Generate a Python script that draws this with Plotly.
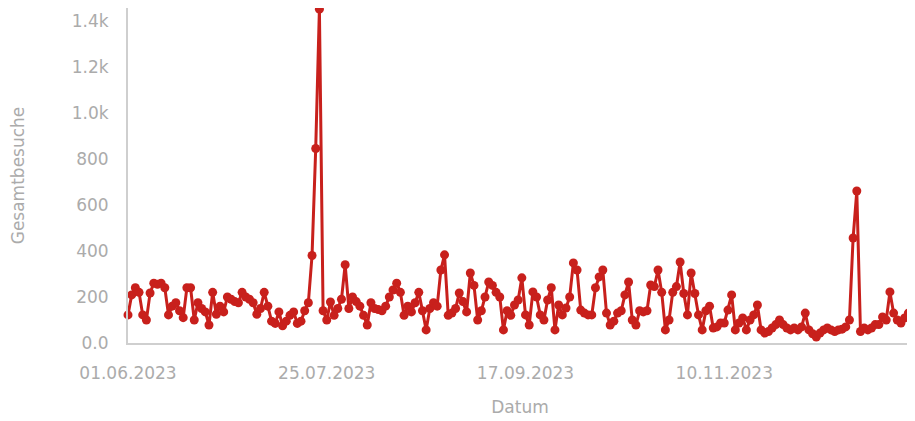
import plotly.graph_objects as go
import pandas as pd

# Daily dates 01.06.2023 - 31.12.2023
start_date = "2023-06-01"
end_date = "2023-12-31"
dates = pd.date_range(start_date, end_date, freq="D")

# Daily total visits (Gesamtbesuche)
visits_jun_jul = [122, 209, 240, 220, 122, 100, 217, 260, 255, 260,
                  240, 122, 160, 175, 140, 110, 240, 240, 100, 175,
                  150, 135, 78, 220, 125, 160, 135, 200, 190, 180,
                  175, 220, 200, 190, 175, 125, 150, 220, 160, 95,
                  85, 135, 75, 95, 120, 135, 85, 95, 140, 175,
                  380, 845, 1450]
visits_jul_sep = [140, 100, 178, 120, 150, 190, 340, 150, 200, 180,
                  160, 120, 78, 175, 150, 145, 140, 160, 200, 230,
                  260, 220, 120, 160, 135, 175, 220, 140, 57, 150,
                  175, 160, 317, 383, 120, 130, 150, 217, 180, 135,
                  304, 250, 100, 140, 200, 265, 250, 220, 200, 57,
                  140, 120, 165, 187]
visits_sep_nov = [283, 122, 78, 222, 200, 122, 100, 187, 240, 57,
                  165, 122, 152, 200, 348, 317, 143, 130, 122, 122,
                  240, 287, 317, 130, 78, 95, 130, 140, 209, 265,
                  100, 78, 140, 135, 140, 252, 245, 317, 220, 57,
                  100, 220, 245, 352, 215, 122, 304, 215, 122, 57,
                  140, 160]
visits_nov_dec = [65, 70, 87, 87, 143, 209, 57, 87, 109, 57,
                  100, 122, 165, 57, 43, 50, 65, 80, 100, 80,
                  65, 57, 65, 57, 70, 130, 57, 40, 26, 43,
                  57, 65, 57, 50, 57, 60, 70, 100, 456, 660,
                  50, 65, 57, 65, 80, 80, 113, 100, 222, 130,
                  100, 87, 109, 130, 157]
visits = visits_jun_jul + visits_jul_sep + visits_sep_nov + visits_nov_dec

x_tick_dates = ["2023-06-01", "2023-07-25", "2023-09-17", "2023-11-10"]
x_tick_labels = ["01.06.2023", "25.07.2023", "17.09.2023", "10.11.2023"]
y_tick_values = [0, 200, 400, 600, 800, 1000, 1200, 1400]
y_tick_labels = ["0.0", "200", "400", "600", "800", "1.0k", "1.2k", "1.4k"]

red = "#c8201c"
grey_text = "#ababab"
axis_grey = "#cfcfcf"

fig = go.Figure(
    go.Scatter(
        x=dates[:len(visits)],
        y=visits,
        mode="lines+markers",
        line=dict(color=red, width=3),
        marker=dict(color=red, size=9),
        cliponaxis=False,
        showlegend=False,
    )
)

# the page body has an 8px default margin, so margins compensate for it
fig.update_layout(
    width=915,
    height=421,
    margin=dict(l=120, r=11, t=0, b=86),
    paper_bgcolor="white",
    plot_bgcolor="white",
    font=dict(family="DejaVu Sans", size=17, color=grey_text),
    xaxis=dict(
        range=[start_date, end_date],
        tickvals=x_tick_dates,
        ticktext=x_tick_labels,
        showline=True,
        linecolor=axis_grey,
        linewidth=2,
        showgrid=False,
        zeroline=False,
        ticks="",
        automargin=False,
        ticklabelstandoff=14,
        title=dict(text="Datum", standoff=19, font=dict(size=17, color=grey_text)),
    ),
    yaxis=dict(
        range=[0, 1455],
        tickvals=y_tick_values,
        ticktext=y_tick_labels,
        showline=True,
        linecolor=axis_grey,
        linewidth=2,
        showgrid=False,
        zeroline=False,
        ticks="",
        automargin=False,
        ticklabelstandoff=14,
        title=dict(text="Gesamtbesuche", standoff=45, font=dict(size=17, color=grey_text)),
    ),
)

fig.write_html("out.html")
